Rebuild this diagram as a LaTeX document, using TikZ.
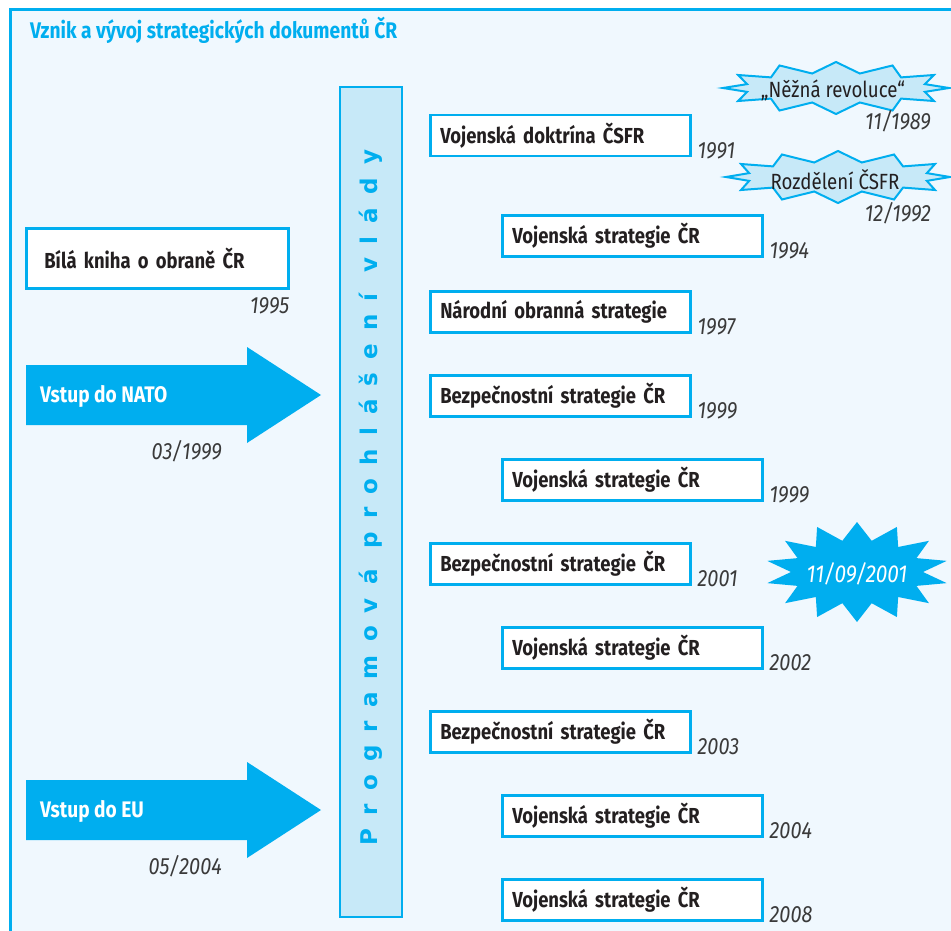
\documentclass[tikz,border=0pt]{standalone}
\usepackage{fontspec}
\setmainfont{Fira Sans}[FakeStretch=0.85]
\newfontfamily\barfont{DejaVu Sans}[LetterSpace=57]
\usetikzlibrary{positioning}
\definecolor{cyanline}{HTML}{00AEEF}
\definecolor{barfill}{HTML}{C7E9F8}
\definecolor{pagebg}{HTML}{F0F8FE}
\definecolor{ink}{HTML}{231F20}
\definecolor{yeargrey}{HTML}{3A3A3A}
\tikzset{
  docbox/.style={draw=cyanline, line width=2.5pt, fill=white, anchor=north west,
                 text width=240pt, align=left, inner xsep=10pt, inner ysep=0pt,
                 minimum height=41pt, font=\fontsize{21.7}{24}\selectfont\bfseries, text=ink},
  yr/.style={font=\fontsize{23.5}{26}\selectfont\itshape, text=yeargrey, inner sep=0pt},
  arrowtxt/.style={font=\fontsize{22.5}{26}\selectfont\bfseries, text=white, anchor=west, inner sep=0pt},
  burstline/.style={draw=cyanline, line width=2pt, fill=barfill},
  bursttxt/.style={font=\fontsize{22}{26}\selectfont, text=ink, inner sep=0pt},
}
% #1 style, #2/#3 centre, #4/#5 outer radii, #6/#7 inner radii, #8 last vertex index
\newcommand{\burstpath}[8]{%
  \path[#1] plot[samples at={0,...,#8}]
    ({#2+ifthenelse(mod(\x,2)==0,#4,#6)*cos(90+\x*360/(#8+1))},
     {#3-ifthenelse(mod(\x,2)==0,#5,#7)*sin(90+\x*360/(#8+1))}) -- cycle;}

\begin{document}
\begin{tikzpicture}[x=1pt, y=-1pt]
  \useasboundingbox (0,0) rectangle (951,931);
  \clip (0,0) rectangle (951,931);
  % frame
  \draw[cyanline, line width=3pt, fill=pagebg] (10,10) rectangle (1000,1000);
  \node[anchor=base west, font=\fontsize{22.6}{26}\selectfont\bfseries, text=cyanline, inner sep=0pt]
    (title) at (30,39) {Vznik a vývoj strategických dokumentů ČR};

  % government programme bar
  \node[draw=cyanline, line width=2.5pt, fill=barfill, rotate=90, minimum width=830pt,
        minimum height=62pt, inner sep=0pt, font=\barfont\fontsize{23}{26}\selectfont\bfseries,
        text=cyanline] (progvl) at (371,502) {\hspace*{9pt}Programová prohlášení vlády};

  % documents along the bar
  \foreach \n/\x/\y/\t/\yy in {1/428/113/Vojenská doktrína ČSFR/1991, 2/500/213/Vojenská strategie ČR/1994,
      3/428/289/Národní obranná strategie/1997, 4/428/373/Bezpečnostní strategie ČR/1999,
      5/500/457/Vojenská strategie ČR/1999, 6/428/541/Bezpečnostní strategie ČR/2001,
      7/500/625/Vojenská strategie ČR/2002, 8/428/709/Bezpečnostní strategie ČR/2003,
      9/500/793/Vojenská strategie ČR/2004, 10/500/877/Vojenská strategie ČR/2008}
    { \node[docbox] (doc\n) at (\x+1,\y+1) {\t};
      \node[yr, anchor=base west] (year\n) at ([xshift=6pt, yshift=-1pt]doc\n.south east) {\yy}; }

  % white paper
  \node[docbox, text width=226pt, inner xsep=18pt, minimum height=60pt] (bila) at (25,227) {Bílá kniha o obraně ČR};
  \node[yr, anchor=base east] (bilayr) at ([yshift=-24pt]bila.south east) {1995};

  % accession arrows
  \foreach \c/\t/\d in {395/Vstup do NATO/03\slash 1999, 810/Vstup do EU/05\slash 2004}
    { \fill[cyanline] (26,\c-30) -- (247,\c-30) -- (247,\c-48) -- (321,\c) -- (247,\c+48)
        -- (247,\c+30) -- (26,\c+30) -- cycle;
      \node[arrowtxt] (acc\c) at (40,\c+1) {\t};
      \node[yr, anchor=base east] (accyr\c) at (222,\c+64) {\d}; }

  % outside events
  \burstpath{burstline}{836}{88}{113}{26}{92}{15}{23}
  \node[bursttxt] (velvet) at (833,90) {„Něžná revoluce“};
  \node[yr, anchor=base east] (velvetyr) at (931,130) {11/1989};
  \burstpath{burstline}{838}{177}{112}{26}{92}{15}{23}
  \node[bursttxt] (split) at (835,180) {Rozdělení ČSFR};
  \node[yr, anchor=base east] (splityr) at (931,222) {12/1992};
  \burstpath{fill=cyanline}{857}{572}{92}{50}{66}{32}{27}
  \node[yr, text=white, font=\fontsize{24.5}{28}\selectfont\itshape] (nine) at (857,574) {11/09/2001};
\end{tikzpicture}
\end{document}
